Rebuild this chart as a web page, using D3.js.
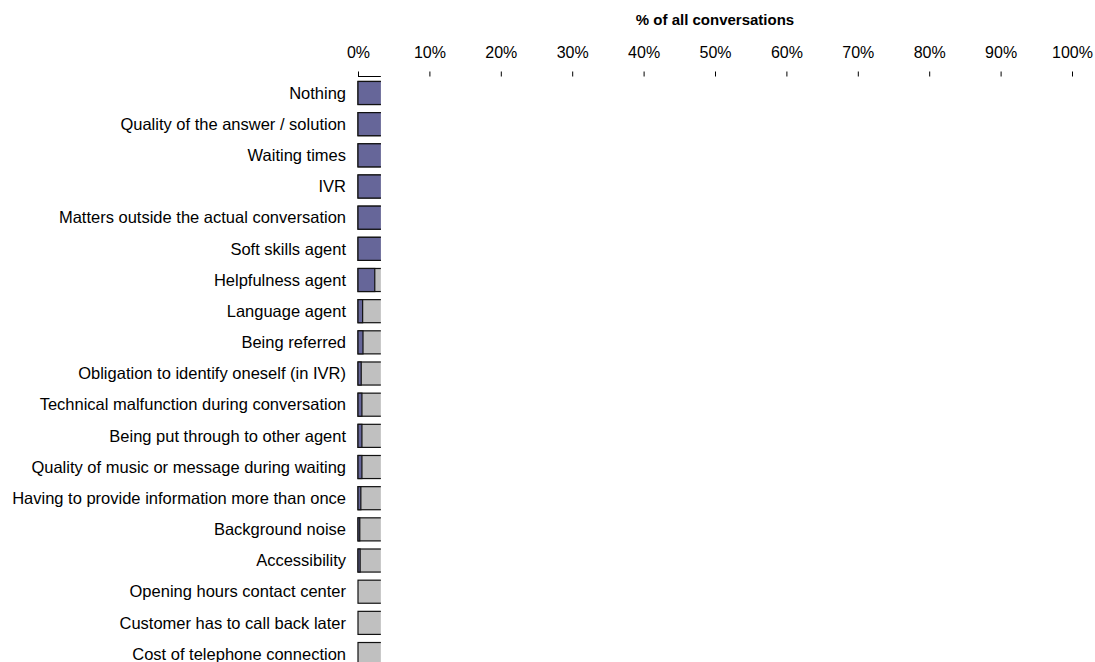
<!DOCTYPE html>
<html><head><meta charset="utf-8">
<script src="https://cdn.jsdelivr.net/npm/d3@7"></script>
<style>body{margin:0;background:#fff;}svg{display:block;}text{font-family:"Liberation Sans",Arial,sans-serif;fill:#000;}</style>
</head><body>
<script>
const categories = ["Nothing","Quality of the answer / solution","Waiting times","IVR","Matters outside the actual conversation","Soft skills agent","Helpfulness agent","Language agent","Being referred","Obligation to identify oneself (in IVR)","Technical malfunction during conversation","Being put through to other agent","Quality of music or message during waiting","Having to provide information more than once","Background noise","Accessibility","Opening hours contact center","Customer has to call back later","Cost of telephone connection"];
// grey background series (total) and purple series (share), in %
const totalValues = [100,100,100,100,100,100,100,100,100,100,100,100,100,100,100,100,100,100,100];
const shareValues = [3.4,3.4,3.4,3.4,3.4,3.4,2.35,0.65,0.7,0.45,0.55,0.55,0.55,0.4,0.25,0.3,0,0,0];
const tickValues = [0,10,20,30,40,50,60,70,80,90,100];
const visibleMax = 3.2; // plot area is cut off here
const axisTitle = "% of all conversations";

const W = 1095, H = 662;
const svg = d3.select("body").append("svg").attr("width", W).attr("height", H);
const x = d3.scaleLinear().domain([0,100]).range([358,1072]);
const y = d3.scaleBand().domain(categories).range([77.4, 77.4 + 19*31.17]).paddingInner(0.26).paddingOuter(0.13);

svg.append("defs").append("clipPath").attr("id","plot").append("rect")
  .attr("x", x(0) - 2).attr("y", 0).attr("width", x(visibleMax) - x(0) + 2).attr("height", H);

// axis
const axis = d3.axisTop(x).tickValues(tickValues).tickFormat(d => d + "%").tickSize(5).tickPadding(14);
const ag = svg.append("g").attr("transform", "translate(0,76.5)").call(axis);
ag.select(".domain").remove();
ag.selectAll(".tick line").attr("stroke", "#000");
ag.selectAll(".tick text").attr("font-size", 16).attr("font-family", "Liberation Sans, Arial, sans-serif").attr("fill", "#111");
svg.append("line").attr("x1", x(0)).attr("x2", x(visibleMax)).attr("y1", 76.5).attr("y2", 76.5).attr("stroke", "#000");

svg.append("text").attr("x", (x(0)+x(100))/2).attr("y", 25).attr("text-anchor","middle")
  .attr("font-size", 15).attr("font-weight","bold").attr("fill", "#111").text(axisTitle);

const plot = svg.append("g").attr("clip-path", "url(#plot)");
plot.selectAll("rect.total").data(categories).join("rect").attr("class","total")
  .attr("x", x(0)).attr("y", d => y(d)).attr("width", (d,i) => x(totalValues[i]) - x(0)).attr("height", y.bandwidth())
  .attr("fill", "#c0c0c0").attr("stroke", "#111").attr("stroke-width", 1.2);
plot.selectAll("rect.share").data(categories).join("rect").attr("class","share")
  .attr("x", x(0)).attr("y", d => y(d)).attr("width", (d,i) => x(shareValues[i]) - x(0)).attr("height", y.bandwidth())
  .attr("fill", "#666699").attr("stroke", "#111").attr("stroke-width", 1.2)
  .attr("display", (d,i) => shareValues[i] > 0 ? null : "none");

svg.append("g").selectAll("text").data(categories).join("text")
  .attr("x", 346).attr("y", d => y(d) + y.bandwidth()/2).attr("dy", "0.35em")
  .attr("text-anchor", "end").attr("font-size", 16.5).attr("fill", "#111").text(d => d);
</script>
</body></html>
